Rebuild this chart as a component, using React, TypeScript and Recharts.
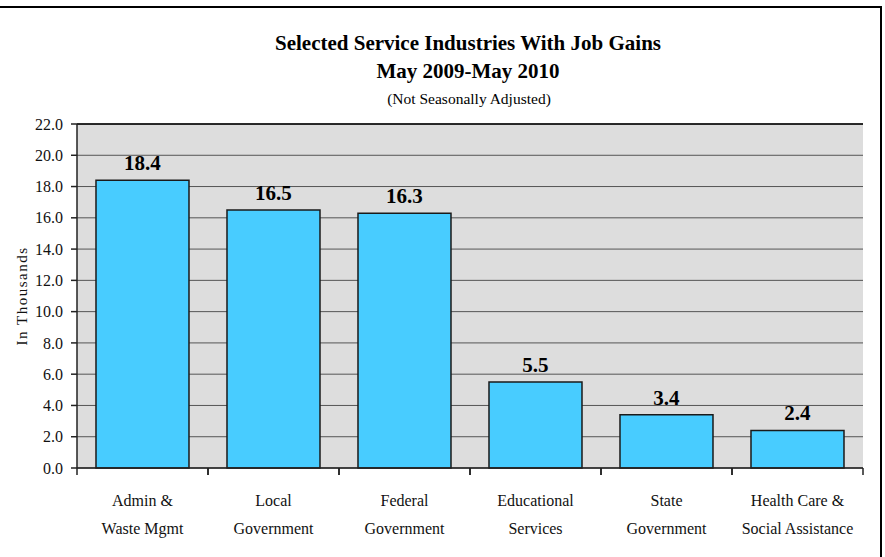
import React from "react";
import {
  BarChart,
  Bar,
  XAxis,
  YAxis,
  CartesianGrid,
  LabelList,
  ReferenceLine,
} from "recharts";

// categories as two-line labels
const labelTop = [
  "Admin &",
  "Local",
  "Federal",
  "Educational",
  "State",
  "Health Care &",
];
const labelBottom = [
  "Waste Mgmt",
  "Government",
  "Government",
  "Services",
  "Government",
  "Social Assistance",
];
const jobGains = [18.4, 16.5, 16.3, 5.5, 3.4, 2.4];
const yTicks = [0, 2, 4, 6, 8, 10, 12, 14, 16, 18, 20, 22];

const data = jobGains.map((v, i) => ({ key: String(i), gain: v }));

const W = 885;
const H = 557;
const M = { top: 124, right: 22, bottom: 29, left: 0 };
const Y_AXIS_W = 77;
const X_AXIS_H = 60;
const bandHalf = (W - M.left - M.right - Y_AXIS_W) / labelTop.length / 2;
const serif = "'Liberation Serif', 'Times New Roman', serif";

const CategoryTick = (props: any) => {
  const { x, y, payload } = props;
  const i = Number(payload.value);
  return (
    <g>
      <line x1={x - bandHalf} x2={x - bandHalf} y1={y} y2={y + 7} stroke="#222" strokeWidth={1.5} />
      <line x1={x + bandHalf} x2={x + bandHalf} y1={y} y2={y + 7} stroke="#222" strokeWidth={1.5} />
      <text x={x} y={y + 38} textAnchor="middle" fontSize={16} fontFamily={serif} fill="#111">
        {labelTop[i]}
      </text>
      <text x={x} y={y + 66} textAnchor="middle" fontSize={16} fontFamily={serif} fill="#111">
        {labelBottom[i]}
      </text>
    </g>
  );
};

const YTitle = (props: any) => {
  const vb = props.viewBox || {};
  const cx = 22;
  const cy = vb.y + vb.height / 2;
  return (
    <text
      x={cx}
      y={cy}
      transform={`rotate(-90, ${cx}, ${cy})`}
      textAnchor="middle"
      dominantBaseline="central"
      fontSize={15}
      letterSpacing={1.5}
      fontFamily={serif}
      fill="#111"
    >
      In Thousands
    </text>
  );
};

export default function App() {
  return (
    <div style={{ position: "absolute", left: 0, top: 0, width: W, height: H, background: "#fff" }}>
      <div
        style={{
          position: "absolute",
          left: -4,
          top: 6,
          width: 886,
          height: 560,
          borderTop: "2px solid #000",
          borderRight: "2px solid #000",
          boxSizing: "border-box",
        }}
      />
      <svg style={{ position: "absolute", left: 0, top: 0 }} width={W} height={120}>
        <text x={468} y={50} textAnchor="middle" fontSize={21} fontWeight="bold" fontFamily={serif} fill="#000">
          Selected Service Industries With Job Gains
        </text>
        <text x={468} y={78} textAnchor="middle" fontSize={21} fontWeight="bold" fontFamily={serif} fill="#000">
          May 2009-May 2010
        </text>
        <text x={469} y={104} textAnchor="middle" fontSize={15.5} fontFamily={serif} fill="#000">
          (Not Seasonally Adjusted)
        </text>
      </svg>
      <div style={{ position: "absolute", left: 0, top: 0 }}>
        <BarChart width={W} height={H} data={data} margin={M} barCategoryGap="14.5%">
          <CartesianGrid vertical={false} stroke="#555" fill="#dddddd" />
          <XAxis
            dataKey="key"
            height={X_AXIS_H}
            tick={<CategoryTick />}
            tickLine={false}
            tickSize={0}
            tickMargin={0}
            axisLine={{ stroke: "#222", strokeWidth: 1.5 }}
            interval={0}
          />
          <YAxis
            width={Y_AXIS_W}
            domain={[0, 22]}
            ticks={yTicks}
            interval={0}
            tickFormatter={(v: number) => v.toFixed(1)}
            tick={{ fontSize: 16, fontFamily: serif, fill: "#111" }}
            tickSize={6}
            tickMargin={8}
            tickLine={{ stroke: "#222", strokeWidth: 1.5 }}
            axisLine={{ stroke: "#222", strokeWidth: 1.5 }}
            label={<YTitle />}
          />
          <YAxis
            yAxisId="right"
            orientation="right"
            width={0}
            domain={[0, 22]}
            tick={false}
            tickLine={false}
            axisLine={{ stroke: "#333", strokeWidth: 1.5 }}
          />
          <ReferenceLine y={22} stroke="#000" strokeWidth={1.5} />
          <Bar dataKey="gain" fill="#48ccff" stroke="#1a1a1a" strokeWidth={1.5} isAnimationActive={false}>
            <LabelList
              dataKey="gain"
              position="top"
              offset={10}
              formatter={(v: any) => Number(v).toFixed(1)}
              style={{ fontSize: 21, fontWeight: "bold", fontFamily: serif, fill: "#000" }}
            />
          </Bar>
        </BarChart>
      </div>
    </div>
  );
}
